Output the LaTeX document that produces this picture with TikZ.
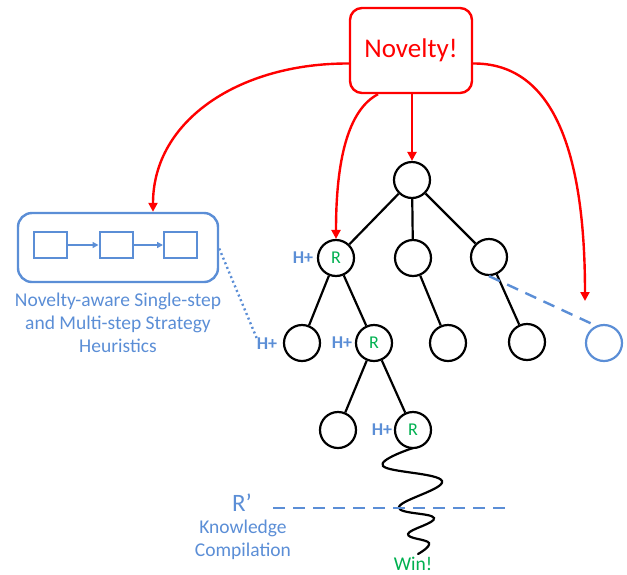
\documentclass[tikz,border=0pt]{standalone}
\usepackage{fontspec}
\setmainfont{Carlito}
\usetikzlibrary{arrows.meta}
\definecolor{novred}{RGB}{255,0,0}
\definecolor{hblue}{RGB}{91,142,214}
\definecolor{rgreen}{RGB}{0,176,80}
\begin{document}
\begin{tikzpicture}[x=1pt,y=-1pt,
  treenode/.style={circle,draw=black,line width=2.2pt,minimum size=36pt,inner sep=0pt,
    text=rgreen,font=\fontsize{18}{18}\selectfont},
  newnode/.style={treenode,draw=hblue},
  edge/.style={line width=2.2pt,black},
  redarrow/.style={draw=novred,line width=2.4pt,-{Triangle[length=9pt,width=9pt]}},
  hlabel/.style={text=hblue,font=\bfseries\fontsize{18}{18}\selectfont,inner sep=0pt},
  stepbox/.style={draw=hblue,line width=2pt,minimum width=33pt,minimum height=26pt,inner sep=0pt},
  steparrow/.style={draw=hblue,line width=2pt,-{Triangle[length=6pt,width=6pt]}},
  bluedash/.style={draw=hblue,line width=2.4pt,dash pattern=on 12pt off 8pt},
  bluetext/.style={text=hblue,align=center}
]
\useasboundingbox (0,0) rectangle (627,574);

% novelty trigger
\node[draw=novred,line width=2.4pt,rounded corners=12pt,minimum width=122pt,minimum height=85pt,
  text=novred,font=\fontsize{27}{27}\selectfont] (nov) at (411,50.5) {Novelty!};

% strategy heuristics box
\node[draw=hblue,line width=2.4pt,rounded corners=14pt,minimum width=200pt,minimum height=69pt] (strat) at (118,247.5) {};
\node[stepbox] (s1) at (50.5,245) {};
\node[stepbox] (s2) at (116,245) {};
\node[stepbox] (s3) at (180.5,245) {};
\draw[steparrow] (s1) -- (s2);
\draw[steparrow] (s2) -- (s3);
\node[bluetext,font=\fontsize{19.5}{23}\selectfont] (stratlbl) at (118,323)
  {Novelty-aware Single-step\\and Multi-step Strategy\\Heuristics};

% search tree
\node[treenode] (root) at (412,180) {};
\node[treenode] (a) at (336,258) {R};
\node[treenode] (b) at (413,258) {};
\node[treenode] (c) at (489,257) {};
\node[treenode] (aa) at (302,343) {};
\node[treenode] (ab) at (374,343) {R};
\node[treenode] (ba) at (448,343) {};
\node[treenode] (ca) at (527,342) {};
\node[newnode] (new) at (604,343) {};
\node[treenode] (aba) at (338,430) {};
\node[treenode] (abb) at (413,430) {R};

\draw[edge] (root) -- (a);
\draw[edge] (root) -- (b);
\draw[edge] (root) -- (c);
\draw[edge] (a) -- (aa);
\draw[edge] (a) -- (ab);
\draw[edge] (b) -- (ba);
\draw[edge] (c) -- (ca);
\draw[edge] (ab) -- (aba);
\draw[edge] (ab) -- (abb);
\draw[bluedash] (c.south) -- (new.115);

% heuristic markers
\node[hlabel] (h1) at (303,258) {H+};
\node[hlabel] (h2) at (267,344) {H+};
\node[hlabel] (h3) at (342,343) {H+};
\node[hlabel] (h4) at (382,430) {H+};

% heuristics apply to the tree
\draw[draw=hblue,line width=2.4pt,dash pattern=on 2pt off 3pt] ([yshift=-1pt]strat.east) -- (h2.north west);

% red novelty arrows
\draw[redarrow] ([yshift=-13pt]nov.west) .. controls (240,63) and (153,120) .. ([xshift=35pt]strat.north);
\draw[redarrow] ([xshift=-33pt]nov.south) .. controls (348,110) and (336,160) .. (a.north);
\draw[redarrow] ([xshift=1pt]nov.south) -- (root.north);
\coordinate (newtip) at (585,301);
\draw[redarrow] ([yshift=-13pt]nov.east) .. controls (548,63) and (585,140) .. (newtip);

% rollout down to the win
\draw[line width=2.2pt,black,line cap=round] plot[smooth,tension=0.7] coordinates
  {(413,448) (383,466) (442,481) (399,507) (434,518) (408,534) (429,543) (418,554)};
\node[text=rgreen,font=\fontsize{19.5}{19.5}\selectfont,anchor=base,inner sep=0pt] (win) at (413,570) {Win!};

% knowledge compilation threshold
\coordinate (kcL) at (273,508);
\coordinate (kcR) at (510,508);
\draw[bluedash] (kcL) -- (kcR);
\node[text=hblue,font=\fontsize{25}{25}\selectfont] (rp) at (242,503) {R’};
\node[bluetext,font=\fontsize{19.5}{23}\selectfont] (kc) at (243,540) {Knowledge\\Compilation};
\end{tikzpicture}
\end{document}
